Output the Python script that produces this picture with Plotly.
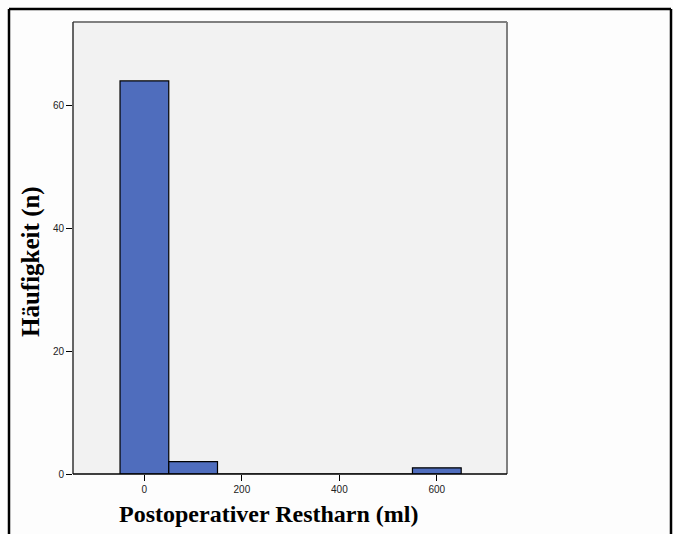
import plotly.graph_objects as go

bin_centers = [0, 100, 200, 300, 400, 500, 600]
counts = [64, 2, 0, 0, 0, 0, 1]
bin_width = 100
x_ticks = [0, 200, 400, 600]
y_ticks = [0, 20, 40, 60]
x_title = "Postoperativer Restharn (ml)"
y_title = "Häufigkeit (n)"

fig = go.Figure()
fig.add_trace(go.Bar(
    x=bin_centers, y=counts, width=[bin_width] * len(bin_centers),
    marker=dict(color="#4F6DBD", line=dict(color="#000000", width=1.2)),
    showlegend=False, hoverinfo="skip",
))

W, H = 673, 534
L, R, T, B = 73, 507, 22, 474
pw, ph = R - L, B - T

def px(x):
    return (x - L) / pw

def py(y):
    return (B - y) / ph

fig.update_layout(
    width=W, height=H,
    margin=dict(l=L, r=W - R, t=T, b=H - B, pad=0),
    paper_bgcolor="#FDFDFD",
    plot_bgcolor="#F2F2F2",
    bargap=0,
    font=dict(family="Liberation Sans, Arial", size=10, color="#222222"),
    xaxis=dict(
        range=[-146.5, 744], tickvals=x_ticks, ticks="outside", ticklen=6,
        tickcolor="#000000", tickwidth=1, showgrid=False, zeroline=False,
        showline=False, tickfont=dict(size=10), fixedrange=True,
    ),
    yaxis=dict(
        range=[0, 73.6], tickvals=y_ticks, ticks="outside", ticklen=6,
        tickcolor="#000000", tickwidth=1, showgrid=False, zeroline=False,
        showline=False, tickfont=dict(size=10), fixedrange=True,
    ),
    shapes=[
        dict(type="line", xref="paper", yref="paper", x0=0, x1=1, y0=1, y1=1,
             line=dict(color="#808080", width=2)),
        dict(type="line", xref="paper", yref="paper", x0=1, x1=1, y0=0, y1=1,
             line=dict(color="#808080", width=2)),
        dict(type="line", xref="paper", yref="paper", x0=0, x1=0, y0=0, y1=1,
             line=dict(color="#333333", width=1.5)),
        dict(type="line", xref="paper", yref="paper", x0=0, x1=1, y0=0, y1=0,
             line=dict(color="#000000", width=1.5)),
        dict(type="line", xref="paper", yref="paper", x0=px(9), x1=px(671),
             y0=py(9), y1=py(9), line=dict(color="#000000", width=2.5)),
        dict(type="line", xref="paper", yref="paper", x0=px(9), x1=px(9),
             y0=py(9), y1=py(540), line=dict(color="#000000", width=2.5)),
        dict(type="line", xref="paper", yref="paper", x0=px(671), x1=px(671),
             y0=py(9), y1=py(540), line=dict(color="#000000", width=2.5)),
    ],
    annotations=[
        dict(text=f"<b>{x_title}</b>", xref="paper", yref="paper",
             x=px(268), y=py(514), xanchor="center", yanchor="middle",
             showarrow=False,
             font=dict(family="Liberation Serif, Times New Roman", size=24, color="#000000")),
        dict(text=f"<b>{y_title}</b>", xref="paper", yref="paper",
             x=px(31), y=py(262), xanchor="center", yanchor="middle",
             textangle=-90, showarrow=False,
             font=dict(family="Liberation Serif, Times New Roman", size=25, color="#000000")),
    ],
)

fig.write_html(
    "out.html",
    config={"displayModeBar": False, "staticPlot": True},
    post_script="document.body.style.margin='0';document.body.style.overflow='hidden';",
)
